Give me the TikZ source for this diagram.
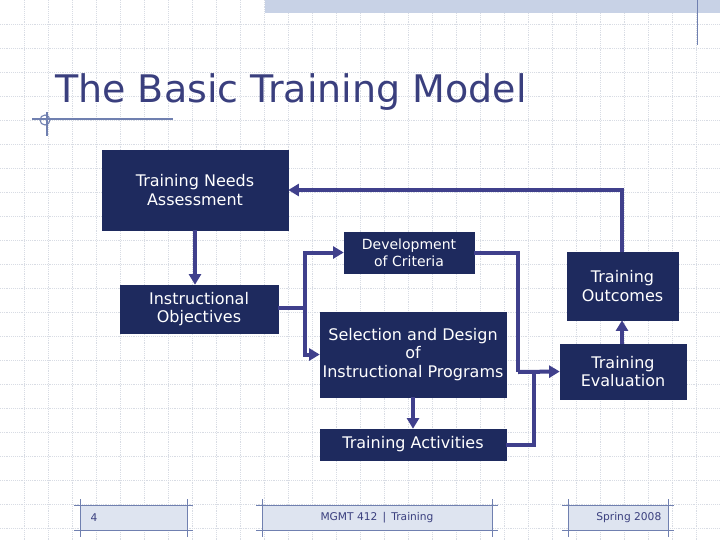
\documentclass[tikz,border=0pt]{standalone}
\usepackage{fontspec}
\setmainfont{DejaVu Sans}
\usetikzlibrary{arrows.meta,patterns}
\definecolor{navy}{HTML}{1E2A5E}
\definecolor{arr}{HTML}{40408C}
\definecolor{ttl}{HTML}{3A3F7E}
\definecolor{gridc}{HTML}{D8DCE4}
\definecolor{hatch}{HTML}{C8D2E6}
\definecolor{lin}{HTML}{7080B0}
\tikzset{
 box/.style={draw=navy,fill=navy,text=white,font=\fontsize{12}{14}\selectfont,align=center,inner sep=0pt},
 conn/.style={draw=arr,line width=3pt,-{Triangle[length=8pt,width=9pt]}},
 plain/.style={draw=arr,line width=3pt},
 foot/.style={fill=hatch!60,draw=none},
}
\begin{document}
\begin{tikzpicture}[x=0.75pt,y=-0.75pt]
\useasboundingbox (0,0) rectangle (720,540);
\fill[white] (0,0) rectangle (720,540);
\foreach \i in {1,...,30} {\draw[gridc,densely dotted,line width=0.4pt] (\i*24,0) -- (\i*24,540);}
\foreach \i in {1,...,22} {\draw[gridc,densely dotted,line width=0.4pt] (0,\i*24) -- (720,\i*24);}
% top decoration
\fill[hatch] (265,0) rectangle (720,13);
\draw[lin,line width=0.6pt] (697,0) -- (697,45);
% title
\node[anchor=base west,text=ttl,font=\fontsize{28.5}{32}\selectfont,inner sep=0pt] (title) at (55,102) {The Basic Training Model};
\draw[lin,line width=0.8pt] (32,119) -- (173,119);
\draw[lin,line width=0.8pt] (47,112) -- (47,136);
\draw[lin,line width=0.8pt] (45,120) circle (5);
% boxes
\node[box,minimum width={186*0.75pt},minimum height={80*0.75pt}] (tna) at (195,190) {Training Needs\\Assessment};
\node[box,minimum width={158*0.75pt},minimum height={48*0.75pt}] (io) at (199,309) {Instructional\\Objectives};
\node[box,minimum width={130*0.75pt},minimum height={41*0.75pt},font=\fontsize{10.5}{13}\selectfont] (dev) at (409,252.5) {Development\\of Criteria};
\node[box,minimum width={186*0.75pt},minimum height={85*0.75pt}] (sel) at (413,354.5) {Selection and Design\\of\\Instructional Programs};
\node[box,minimum width={186*0.75pt},minimum height={31*0.75pt}] (ta) at (413,444.5) {Training Activities};
\node[box,minimum width={111*0.75pt},minimum height={68*0.75pt}] (out) at (622.5,286) {Training\\Outcomes};
\node[box,minimum width={126*0.75pt},minimum height={55*0.75pt}] (ev) at (623,371.5) {Training\\Evaluation};
\coordinate (j1) at (305,308);
\coordinate (j2) at (518,372);
% connectors
\draw[conn] (tna.south -| 195,0) -- (io.north -| 195,0);
\draw[plain] (io.east |- j1) -- (j1);
\draw[conn] (j1) |- (dev.west);
\draw[conn] (j1) |- (sel.west);
\draw[plain] (dev.east) -| (j2);
\draw[plain] (ta.east) -| (534,372);
\draw[conn] (j2) -- (ev.west);
\draw[conn] (sel.south) -- (ta.north);
\draw[conn] (ev.north -| 622,0) -- (out.south -| 622,0);
\draw[conn] (out.north -| 622,0) |- (tna.east);
% footer
\foreach \a/\b in {80/187,262/492,568/668} {
 \fill[foot] (\a,505) rectangle (\b,530);
 \draw[lin,line width=0.6pt] (\a-6,505) -- (\b+6,505);
 \draw[lin,line width=0.6pt] (\a-6,530) -- (\b+6,530);
 \draw[lin,line width=0.6pt] (\a,499) -- (\a,537);
 \draw[lin,line width=0.6pt] (\b,499) -- (\b,537);
}
\node[text=ttl,font=\fontsize{8}{9}\selectfont,anchor=west] (pg) at (86,517.5) {4};
\node[text=ttl,font=\fontsize{8}{9}\selectfont] (mid) at (377,517.5) {MGMT 412 \,|\, Training};
\node[text=ttl,font=\fontsize{8}{9}\selectfont,anchor=east] (dt) at (666,517.5) {Spring 2008};
\end{tikzpicture}
\end{document}
